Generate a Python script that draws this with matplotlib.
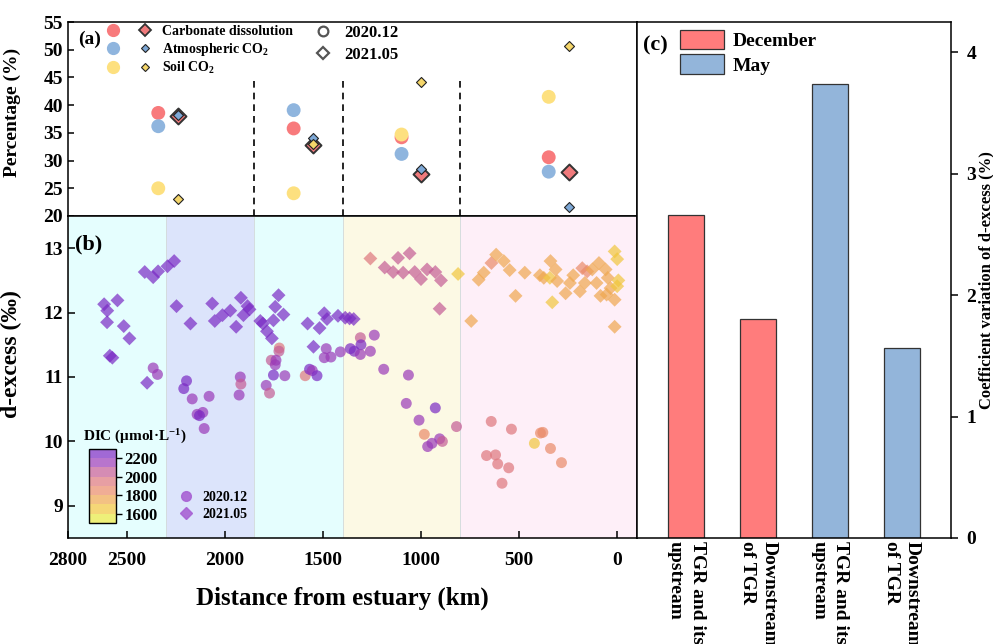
import matplotlib
matplotlib.use("Agg")

import matplotlib.pyplot as plt
from matplotlib.colors import ListedColormap, Normalize
from matplotlib.lines import Line2D
from matplotlib.patches import Patch
from matplotlib.legend_handler import HandlerTuple

plt.rcParams.update({
    "font.family": ["Liberation Serif", "DejaVu Serif"],
    "font.weight": "bold",
    "axes.labelweight": "bold",
    "mathtext.fontset": "custom",
    "mathtext.rm": "Liberation Serif:bold",
    "mathtext.it": "Liberation Serif:bold",
    "mathtext.bf": "Liberation Serif:bold",
    "mathtext.default": "rm",
    "axes.linewidth": 1.1,
})

# ── Data ─────────────────────────────────────────────────────────────

# (a) source contributions (%)
dec_dist = [2340, 1650, 1100, 350]
may_dist = [2240, 1550, 1000, 245]
dec_carb = [38.6, 35.8, 34.2, 30.6]
dec_atm = [36.2, 39.1, 31.2, 28.0]
dec_soil = [25.0, 24.1, 34.7, 41.5]
may_carb = [38.0, 32.8, 27.5, 28.0]
may_atm = [38.3, 34.1, 28.4, 21.6]
may_soil = [23.1, 33.0, 44.2, 50.6]

# (b) d-excess vs distance, coloured by DIC
dec_dist_b = [2366, 2344, 2196, 2210, 2167, 2081, 2142, 2113, 2130, 2106,
              1922, 1919, 1928, 1790, 1773, 1723, 1725, 1764, 1740, 1744,
              1753, 1695, 1591, 1569, 1555, 1531, 1484, 1494, 1460, 1412,
              1361, 1341, 1310, 1239, 1307, 1310, 1259, 1191, 1065, 1076,
              928, 1011, 984, 967, 945, 906, 892, 820,
              643, 667, 621, 610, 554, 588, 540, 392, 380, 423, 341, 285]
dec_dex = [11.14, 11.04, 10.94, 10.82, 10.66, 10.70, 10.42, 10.45, 10.40, 10.20,
           11.00, 10.89, 10.72, 10.87, 10.75, 11.45, 11.40, 11.26, 11.26, 11.19,
           11.03, 11.02, 11.02, 11.12, 11.10, 11.02, 11.44, 11.30, 11.31, 11.39,
           11.44, 11.40, 11.61, 11.65, 11.50, 11.35, 11.40, 11.12, 11.03, 10.59,
           10.52, 10.33, 10.11, 9.92, 9.97, 10.04, 10.00, 10.23,
           10.31, 9.78, 9.79, 9.65, 9.59, 9.35, 10.19, 10.13, 10.14, 9.97, 9.89, 9.67]
dec_dic = [2180, 2130, 2230, 2200, 2150, 2150, 2100, 2150, 2200, 2150,
           2150, 2030, 2150, 2150, 2030, 1980, 2050, 2000, 2150, 2150,
           2230, 2150, 1980, 2200, 2150, 2250, 2150, 2150, 2150, 2150,
           2200, 2230, 2030, 2180, 2220, 2180, 2150, 2150, 2150, 2150,
           2220, 2150, 1820, 2150, 2150, 2150, 2010, 2020,
           1940, 1940, 1940, 1940, 1950, 1940, 1940, 1870, 1860, 1650, 1860, 1860]

may_dist_b = [2616, 2600, 2601, 2548, 2516, 2487, 2587, 2574, 2409, 2366,
              2341, 2293, 2259, 2397, 2247, 2176, 2065, 2052, 2013, 1973,
              1919, 1943, 1906, 1885, 1875, 1820, 1807, 1786, 1761, 1753,
              1744, 1727, 1702, 1579, 1518, 1549, 1494, 1480, 1424, 1387,
              1365, 1344,
              1259, 1186, 1118, 1059, 1143, 1092, 1033, 1001, 970, 928, 899, 906,
              812, 745, 707, 681, 642, 618, 579, 549, 472, 519,
              395, 375, 341, 315, 344, 307, 332, 264, 242, 225,
              191, 179, 154, 166, 128, 94, 106, 86, 60, 49,
              35, 55, 14, 1, 14, 1, -5, 14]
may_dex = [12.13, 12.03, 11.85, 12.19, 11.79, 11.60, 11.33, 11.30, 12.63, 12.55,
           12.64, 12.72, 12.80, 10.91, 12.10, 11.83, 12.14, 11.87, 11.96, 12.03,
           12.23, 11.78, 11.96, 12.10, 12.05, 11.87, 11.83, 11.71, 11.60, 11.88,
           12.09, 12.27, 11.97, 11.83, 11.76, 11.47, 11.99, 11.90, 11.95, 11.92,
           11.91, 11.90,
           12.84, 12.70, 12.85, 12.92, 12.63, 12.62, 12.63, 12.52, 12.67, 12.63, 12.50, 12.06,
           12.60, 11.87, 12.51, 12.62, 12.77, 12.90, 12.80, 12.66, 12.62, 12.26,
           12.58, 12.54, 12.80, 12.67, 12.54, 12.49, 12.16, 12.30, 12.46, 12.58,
           12.33, 12.69, 12.64, 12.46, 12.67, 12.77, 12.46, 12.26, 12.67, 12.54,
           12.38, 12.28, 12.95, 12.83, 12.20, 12.41, 12.50, 11.78]
may_dic = [2250] * 42 + \
          [1950, 2060, 2060, 2060, 2060, 2060, 2060, 2060, 2060, 2060, 2060, 2060] + \
          [1650, 1720, 1730, 1750, 1830, 1760, 1750, 1740, 1740, 1720,
           1710, 1720, 1700, 1730, 1690, 1700, 1680, 1740, 1700, 1710,
           1720, 1850, 1870, 1720, 1760, 1730, 1740, 1730, 1700, 1720,
           1700, 1740, 1680, 1650, 1700, 1690, 1660, 1730]

# river sections (km from estuary)
section_edges = [2800, 2300, 1850, 1400, 800, -100]
section_colors = ["#E5FEFE", "#DCE4FB", "#E5FEFE", "#FCF9E4", "#FEEFF8"]
dash_positions = [1850, 1400, 800]

# (c) coefficient of variation
cv_labels = ["TGR and its\nupstream", "Downstream\nof TGR",
             "TGR and its\nupstream", "Downstream\nof TGR"]
cv_values = [2.66, 1.80, 3.74, 1.565]

# ── Styling ──────────────────────────────────────────────────────────

RED = "#F87A7C"
BLUE = "#8FB5DE"
YELLOW = "#FDE07F"
RED_D = "#F07A7C"
BLUE_D = "#7EA8D6"
YELLOW_D = "#F5D66A"
BAR_RED = "#FF7C7C"
BAR_BLUE = "#93B5DA"

dic_cmap = ListedColormap(["#E8EA41", "#F1C63D", "#EFA74F", "#EA8B69",
                           "#DE777D", "#C45C95", "#9A3AB8", "#7A2AC4"])
dic_norm = Normalize(1500, 2300)

fig = plt.figure(figsize=(9.93, 6.44), dpi=100)
ax_a = fig.add_axes([0.0685, 0.6646, 0.573, 0.3012])
ax_b = fig.add_axes([0.0685, 0.1646, 0.573, 0.5])
ax_c = fig.add_axes([0.6415, 0.1646, 0.3162, 0.8012])

# ── Panel (a) ────────────────────────────────────────────────────────

ax_a.vlines(dash_positions, 20, 45, colors="k", linestyles=(0, (4, 3)), lw=1.2)
ax_a.scatter(dec_dist, dec_carb, s=100, color=RED, edgecolors="none", zorder=3)
ax_a.scatter(dec_dist, dec_atm, s=100, color=BLUE, edgecolors="none", zorder=3)
ax_a.scatter(dec_dist, dec_soil, s=100, color=YELLOW, edgecolors="none", zorder=3)
ax_a.scatter(may_dist, may_carb, s=66, marker="D", color=RED_D, edgecolors="#333333", lw=1.4, zorder=3)
ax_a.scatter(may_dist, may_atm, s=26, marker="D", color=BLUE_D, edgecolors="#222222", lw=0.8, zorder=4)
ax_a.scatter(may_dist, may_soil, s=26, marker="D", color=YELLOW_D, edgecolors="#222222", lw=0.8, zorder=4)

ax_a.set_xlim(2800, -100)
ax_a.set_ylim(20, 55)
ax_a.set_yticks(range(20, 56, 5))
ax_a.tick_params(axis="x", bottom=False, labelbottom=False)
ax_a.tick_params(axis="y", direction="in", length=4, width=1.1, labelsize=14)
ax_a.set_ylabel("Percentage (%)", fontsize=14)
ax_a.yaxis.set_label_coords(-0.083, 0.536)
ax_a.text(0.018, 0.91, "(a)", transform=ax_a.transAxes, fontsize=14, va="center")

src_handles = [
    (Line2D([], [], ls="", marker="o", ms=8.5, color=RED),
     Line2D([], [], ls="", marker="D", ms=6.5, mfc=RED_D, mec="#333333", mew=1.3)),
    (Line2D([], [], ls="", marker="o", ms=8.5, color=BLUE),
     Line2D([], [], ls="", marker="D", ms=4.2, mfc=BLUE_D, mec="#222222", mew=0.8)),
    (Line2D([], [], ls="", marker="o", ms=8.5, color=YELLOW),
     Line2D([], [], ls="", marker="D", ms=4.2, mfc=YELLOW_D, mec="#222222", mew=0.8)),
]
leg1 = ax_a.legend(src_handles, ["Carbonate dissolution", "Atmospheric CO$_2$", "Soil CO$_2$"],
                   handler_map={tuple: HandlerTuple(ndivide=None, pad=0.8)},
                   loc="upper left", bbox_to_anchor=(0.057, 1.0), borderaxespad=0, borderpad=0.2,
                   handlelength=3.7, handletextpad=0.5, labelspacing=0.2,
                   frameon=False, prop={"size": 10, "weight": "bold"})
ax_a.add_artist(leg1)

yr_handles = [Line2D([], [], ls="", marker="o", ms=7, mfc="none", mec="#555555", mew=1.6),
              Line2D([], [], ls="", marker="D", ms=6.5, mfc="none", mec="#555555", mew=1.6)]
ax_a.legend(yr_handles, ["2020.12", "2021.05"], loc="upper left",
            bbox_to_anchor=(0.429, 1.0), borderaxespad=0, borderpad=0.15,
            handlelength=1.0, handletextpad=0.8, labelspacing=0.4,
            frameon=False, prop={"size": 12, "weight": "bold"})

# ── Panel (b) ────────────────────────────────────────────────────────

for (x0, x1), col in zip(zip(section_edges[:-1], section_edges[1:]), section_colors):
    ax_b.axvspan(x0, x1, color=col, ec="#D4DCDC", lw=0.6, zorder=0)

sc = ax_b.scatter(dec_dist_b, dec_dex, c=dec_dic, cmap=dic_cmap, norm=dic_norm,
                  marker="o", s=62, alpha=0.7, edgecolors="none", zorder=3)
ax_b.scatter(may_dist_b, may_dex, c=may_dic, cmap=dic_cmap, norm=dic_norm,
             marker="D", s=50, alpha=0.7, edgecolors="none", zorder=3)

ax_b.set_xlim(2800, -100)
ax_b.set_ylim(8.5, 13.5)
ax_b.set_xticks([2800, 2500, 2000, 1500, 1000, 500, 0])
ax_b.set_yticks([9, 10, 11, 12, 13])
ax_b.tick_params(direction="in", length=5, width=1.1, labelsize=14)
ax_b.tick_params(axis="x", pad=10)
ax_b.set_ylabel("d-excess (‰)", fontsize=17)
ax_b.yaxis.set_label_coords(-0.081, 0.571)
ax_b.set_xlabel("Distance from estuary (km)", fontsize=18)
ax_b.xaxis.set_label_coords(0.483, -0.152)
ax_b.text(0.012, 0.91, "(b)", transform=ax_b.transAxes, fontsize=16, va="center")

cax = ax_b.inset_axes([0.037, 0.047, 0.047, 0.23])
cb = fig.colorbar(sc, cax=cax, ticks=[1600, 1800, 2000, 2200])
cb.outline.set_linewidth(1.0)
cb.ax.tick_params(labelsize=12, direction="out", length=4, width=1.0, pad=2)
ax_b.text(0.026, 0.315, "DIC (μmol·L$^{-1}$)", transform=ax_b.transAxes,
          fontsize=11, va="center", ha="left")

ym_handles = [Line2D([], [], ls="", marker="o", ms=7, color="#A862D4", alpha=0.9),
              Line2D([], [], ls="", marker="D", ms=6.5, color="#A862D4", alpha=0.9)]
ax_b.legend(ym_handles, ["2020.12", "2021.05"], loc="lower left",
            bbox_to_anchor=(0.19, 0.045), borderaxespad=0, borderpad=0.2,
            handlelength=1.0, handletextpad=0.7, labelspacing=0.25,
            frameon=False, prop={"size": 10, "weight": "bold"})

# ── Panel (c) ────────────────────────────────────────────────────────

bar_colors = [BAR_RED, BAR_RED, BAR_BLUE, BAR_BLUE]
ax_c.bar(range(len(cv_values)), cv_values, width=0.5, color=bar_colors,
         edgecolor="#333333", linewidth=0.9)
ax_c.set_xlim(-0.685, 3.685)
ax_c.set_ylim(0, 4.25)
ax_c.set_yticks([0, 1, 2, 3, 4])
ax_c.yaxis.tick_right()
ax_c.yaxis.set_label_position("right")
ax_c.tick_params(axis="y", direction="out", length=5, width=1.1, labelsize=14, pad=6)
ax_c.set_xticks(range(len(cv_labels)))
ax_c.set_xticklabels(cv_labels, rotation=270, fontsize=14, va="top", ha="center",
                     multialignment="left", linespacing=1.35)
ax_c.tick_params(axis="x", length=0, pad=2)
ax_c.set_ylabel("Coefficient variation of d-excess (%)", fontsize=12)
ax_c.yaxis.set_label_coords(1.088, 0.5)
ax_c.text(0.018, 0.955, "(c)", transform=ax_c.transAxes, fontsize=16, va="center")

ax_c.legend([Patch(fc=BAR_RED, ec="#333333", lw=0.9), Patch(fc=BAR_BLUE, ec="#333333", lw=0.9)],
            ["December", "May"], loc="upper left", bbox_to_anchor=(0.13, 0.988),
            borderaxespad=0, borderpad=0.1, handlelength=2.3, handleheight=1.15,
            handletextpad=0.4, labelspacing=0.2, frameon=False,
            prop={"size": 14, "weight": "bold"})

fig.savefig("out.png", dpi=100)
